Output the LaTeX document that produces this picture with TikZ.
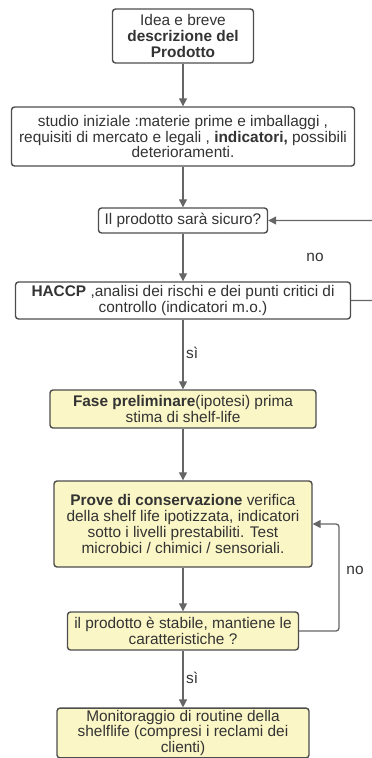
\documentclass[tikz,border=0pt]{standalone}
\usepackage{fontspec}
\setmainfont{Liberation Sans}
\usetikzlibrary{arrows.meta}
\definecolor{boxline}{HTML}{4D4D4D}
\definecolor{arrowline}{HTML}{666666}
\definecolor{boxfill}{HTML}{FAF6C6}
\definecolor{boxtext}{HTML}{333333}
\begin{document}
\begin{tikzpicture}[x=1pt,y=-1pt,
    box/.style={draw=boxline,line width=1.4pt,rounded corners=3pt,fill=white,text=boxtext,
      align=center,inner sep=2pt,font=\fontsize{15.4}{15.7}\selectfont},
    yellowbox/.style={box,fill=boxfill},
    lbl/.style={text=boxtext,inner sep=0pt,font=\fontsize{15.4}{15.7}\selectfont}]
      \useasboundingbox (0,0) rectangle (372,758);
      \draw
        (183,36) node[box,minimum width=141pt,minimum height=54pt] (0){Idea e breve\\\textbf{descrizione del}\\\textbf{Prodotto}}
        (183,136.5) node[box,minimum width=343pt,minimum height=59pt] (1){studio iniziale :materie prime e imballaggi ,\\requisiti di mercato e legali , \textbf{indicatori,} possibili\\deterioramenti.}
        (183,220.5) node[box,minimum width=169pt,minimum height=25pt] (2){Il prodotto sarà sicuro?}
        (183,300.5) node[box,minimum width=335pt,minimum height=37pt] (3){\textbf{HACCP} ,analisi dei rischi e dei punti critici di\\controllo (indicatori m.o.)}
        (183,409) node[yellowbox,minimum width=266pt,minimum height=38pt] (4){\textbf{Fase preliminare}(ipotesi) prima\\stima di shelf-life}
        (183,524) node[yellowbox,minimum width=258pt,minimum height=86pt] (5){\textbf{Prove di conservazione} verifica\\della shelf life ipotizzata, indicatori\\sotto i livelli prestabiliti. Test\\microbici / chimici / sensoriali.}
        (183,631) node[yellowbox,minimum width=231pt,minimum height=38pt] (6){il prodotto è stabile, mantiene le\\caratteristiche ?}
        (183,733) node[yellowbox,minimum width=252pt,minimum height=48pt] (7){Monitoraggio di routine della\\shelflife (compresi i reclami dei\\clienti)};
      \draw
        (315,257) node[lbl] (8){no}
        (355,570) node[lbl] (9){no}
        (186,353) node[lbl,anchor=west] (10){sì}
        (186,678) node[lbl,anchor=west] (11){sì};
      \coordinate (r0) at (380,260);
      \coordinate (r1) at (339,580);
      \begin{scope}[draw=arrowline,line width=1.3pt,-{Triangle[length=8pt,width=8pt]}]
        \draw (0) to (1);
        \draw (1) to (2);
        \draw (2) to (3);
        \draw (3) to (4);
        \draw (4) to (5);
        \draw (5) to (6);
        \draw (6) to (7);
        \draw[rounded corners=3pt] (3.east) -| (r0) |- (2.east);
        \draw[rounded corners=3pt] (6.east) -| (r1) |- (5.east);
      \end{scope}
    \end{tikzpicture}
\end{document}
